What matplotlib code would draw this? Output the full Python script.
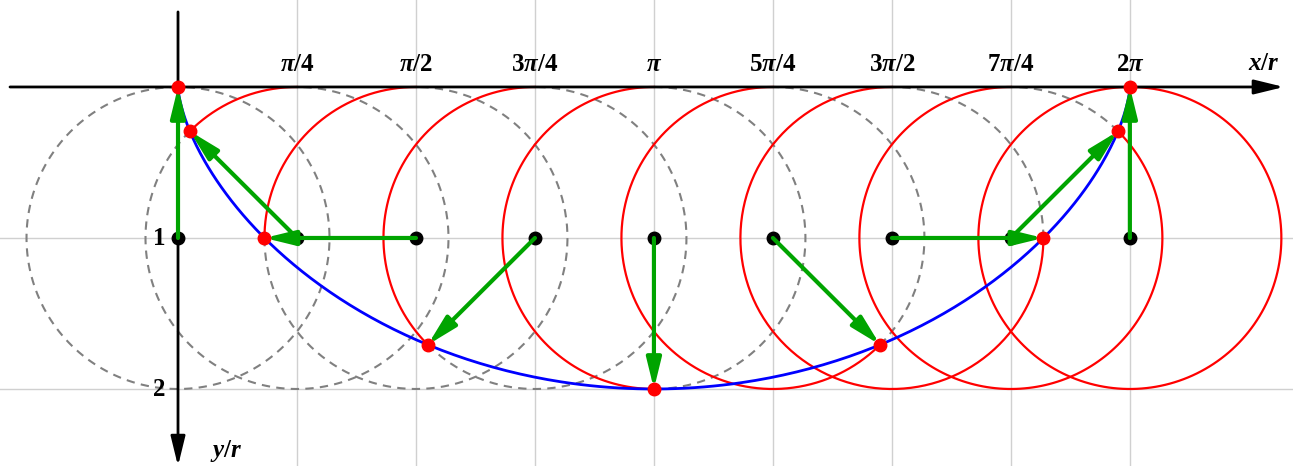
import numpy as np
import matplotlib
matplotlib.use("Agg")
import matplotlib.pyplot as plt
from matplotlib.patches import FancyArrowPatch

plt.rcParams['mathtext.fontset'] = 'custom'
plt.rcParams['mathtext.rm'] = 'Liberation Serif:bold'
plt.rcParams['mathtext.bf'] = 'Liberation Serif:bold'
plt.rcParams['mathtext.it'] = 'Liberation Serif:italic:bold'

# rolling angles (in units of pi/4) and labels
steps = [0, 1, 2, 3, 4, 5, 6, 7, 8]
tick_labels = ['', r'$\pi/4$', r'$\pi/2$', r'$3\pi/4$', r'$\pi$',
               r'$5\pi/4$', r'$3\pi/2$', r'$7\pi/4$', r'$2\pi$']
y_ticks = [1, 2]
y_labels = ['1', '2']

angles = np.array(steps) * np.pi / 4
centers_x = angles
centers_y = np.ones_like(angles)
points_x = angles - np.sin(angles)
points_y = 1 - np.cos(angles)

fig = plt.figure(figsize=(12.93, 4.66), dpi=100)
ax = fig.add_axes([0, 0, 1, 1])
ax.set_xlim(-1.175, 7.36)
ax.set_ylim(2.51, -0.576)
ax.axis('off')

grid_c = '#d0d0d0'
for a in angles[1:]:
    ax.plot([a, a], [-0.6, 2.6], color=grid_c, lw=1, zorder=0)
for yt in y_ticks:
    ax.plot([-1.2, 7.4], [yt, yt], color=grid_c, lw=1, zorder=0)

# circles: red part = arc already rolled, dashed gray = the rest
for cx, a in zip(centers_x, angles):
    phi_red = np.linspace(0, a, 200)
    phi_rest = np.linspace(a, 2 * np.pi, 200)
    if a < 2 * np.pi - 1e-9:
        ax.plot(cx - np.sin(phi_rest), 1 - np.cos(phi_rest), color='#808080',
                lw=1.5, ls=(0, (4, 3)), zorder=1)
    if a > 0:
        ax.plot(cx - np.sin(phi_red), 1 - np.cos(phi_red), color='red',
                lw=1.6, zorder=2)

# cycloid
t = np.linspace(0, 2 * np.pi, 400)
ax.plot(t - np.sin(t), 1 - np.cos(t), color='blue', lw=2, zorder=3)

head = '-|>,head_length=0.9,head_width=0.22'

# axes with arrows
ax.add_patch(FancyArrowPatch((-1.109, 0), (7.30, 0), arrowstyle=head,
                             mutation_scale=20, lw=2, color='black',
                             shrinkA=0, shrinkB=0, zorder=4))
ax.add_patch(FancyArrowPatch((0, -0.497), (0, 2.51), arrowstyle=head,
                             mutation_scale=20, lw=2, color='black',
                             shrinkA=0, shrinkB=0, zorder=4))

ax.plot(centers_x, centers_y, 'o', color='black', ms=9, zorder=5)

for cx, cy, px, py in zip(centers_x, centers_y, points_x, points_y):
    ax.add_patch(FancyArrowPatch((cx, cy), (px, py), arrowstyle=head,
                                 mutation_scale=20, lw=3, color='#00a400',
                                 shrinkA=0, shrinkB=0, zorder=6))

ax.plot(points_x, points_y, 'o', color='red', ms=9, zorder=7)

for a, lab in zip(angles, tick_labels):
    if lab:
        ax.text(a, -0.075, lab, ha='center', va='bottom', fontsize=18)
for yt, lab in zip(y_ticks, y_labels):
    ax.text(-0.085, yt, r'$\mathbf{' + lab + '}$', ha='right', va='center', fontsize=18)

ax.text(7.17, -0.16, r'$x/r$', ha='center', va='center', fontsize=18)
ax.text(0.32, 2.41, r'$y/r$', ha='center', va='center', fontsize=18)

fig.savefig('out.png', dpi=100)
